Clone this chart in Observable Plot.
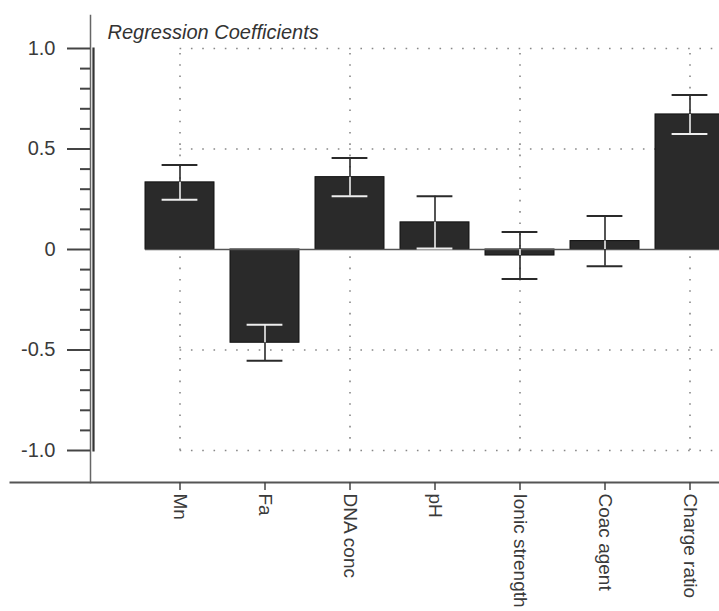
<!DOCTYPE html>
<html><head><meta charset="utf-8">
<script src="https://cdn.jsdelivr.net/npm/d3@7"></script>
<script src="https://cdn.jsdelivr.net/npm/@observablehq/plot@0.6"></script>
<style>
html,body{margin:0;padding:0;background:#fff;overflow:hidden;}
</style></head><body><div id="chart"></div>
<script>
const categories = ["Mn","Fa","DNA conc","pH","Ionic strength","Coac agent","Charge ratio"];
const coefficients = [0.334,-0.464,0.36,0.135,-0.03,0.042,0.672];
const errors = [0.086,0.09,0.095,0.13,0.117,0.125,0.097];
const yTicks = [-1,-0.5,0,0.5,1];
const yTickLabels = ["-1.0","-0.5","0","0.5","1.0"];
const minorTicks = [-0.9,-0.8,-0.7,-0.6,-0.4,-0.3,-0.2,-0.1,0.1,0.2,0.3,0.4,0.6,0.7,0.8,0.9];
const gridCategories = ["Mn","DNA conc","Ionic strength","Charge ratio"];
const gridValues = [-1,-0.5,0.5,1];
const title = "Regression Coefficients";

const data = categories.map((c,i)=>{
  const v = coefficients[i], lo = v - errors[i], hi = v + errors[i];
  const a = Math.min(0, v), b = Math.max(0, v);
  return {c, v, lo, hi, in1: Math.max(lo, a), in2: Math.min(hi, b)};
});
const caps = data.flatMap(d => [d.lo, d.hi].map(y => ({c: d.c, y, inside: y >= Math.min(0,d.v) && y <= Math.max(0,d.v)})));
const grid = gridValues.map(y => ({y, from: categories[0], to: categories[categories.length-1]}));
const zero = [{y: 0, from: categories[0], to: categories[categories.length-1]}];

const padding = 0.19;
const xRange = [126.8, 741.2];
const step = (xRange[1]-xRange[0])/(categories.length + padding);
const bandwidth = step*(1-padding);
const capWidth = 36;

const chart = Plot.plot({
  width: 719, height: 611,
  marginTop: 15, marginBottom: 129, marginLeft: 90, marginRight: 0,
  style: {fontFamily: "'Liberation Sans', Arial, sans-serif", fontSize: "20px", color: "#3a3a3a", background: "#fff", overflow: "hidden"},
  x: {domain: categories, range: xRange, padding, axis: null, label: null},
  y: {domain: [-1, 1], range: [450, 48], axis: null, label: null},
  marks: [
    Plot.ruleY(grid, {y: "y", x1: "from", x2: "to", insetLeft: bandwidth/2, stroke: "#888", strokeWidth: 1.6, strokeDasharray: "1.6,9.7"}),
    Plot.ruleX(gridCategories, {x: d => d, y1: -1, y2: 1, stroke: "#888", strokeWidth: 1.6, strokeDasharray: "1.6,9.7"}),
    Plot.barY(data, {x: "c", y: "v", fill: "#2a2a2a", stroke: "#111", strokeWidth: 1}),
    Plot.ruleY(zero, {y: "y", x1: "from", x2: "to", stroke: "#555", strokeWidth: 1.6}),
    Plot.ruleX(data, {x: "c", y1: "lo", y2: "hi", stroke: "#2a2a2a", strokeWidth: 1.6}),
    Plot.ruleX(data.filter(d => d.in2 > d.in1), {x: "c", y1: "in1", y2: "in2", stroke: "#eee", strokeWidth: 1.6}),
    Plot.tickY(caps, {x: "c", y: "y", stroke: d => d.inside ? "#eee" : "#2a2a2a", insetLeft: (bandwidth-capWidth)/2, insetRight: (bandwidth-capWidth)/2, strokeWidth: 2}),
    Plot.frame({anchor: "left", stroke: "#666", strokeWidth: 1.5}),
    Plot.frame({anchor: "left", insetTop: 33, insetBottom: 32, dx: 3, stroke: "#333", strokeWidth: 2.2}),
    Plot.frame({anchor: "bottom", insetLeft: -80, stroke: "#555", strokeWidth: 2}),
    Plot.axisY(yTicks, {anchor: "left", tickSize: 23, tickPadding: 12, tickFormat: d => yTickLabels[yTicks.indexOf(d)], stroke: "#444", strokeWidth: 2, fill: "#3a3a3a", fontSize: 20, label: null}),
    Plot.axisY(minorTicks, {anchor: "left", tickSize: 10, tickFormat: () => "", stroke: "#444", strokeWidth: 2, label: null}),
    Plot.axisX(categories, {anchor: "bottom", tickSize: 8, tickPadding: 3, tickRotate: 90, stroke: "#444", strokeWidth: 1.5, fill: "#3a3a3a", fontSize: 19, label: null}),
    Plot.text([title], {text: d => d, frameAnchor: "top-left", dx: 17, dy: 17, lineAnchor: "middle", textAnchor: "start", fontStyle: "italic", fontSize: 20, fill: "#333"})
  ]
});
document.getElementById("chart").appendChild(chart);
</script>
</body></html>
